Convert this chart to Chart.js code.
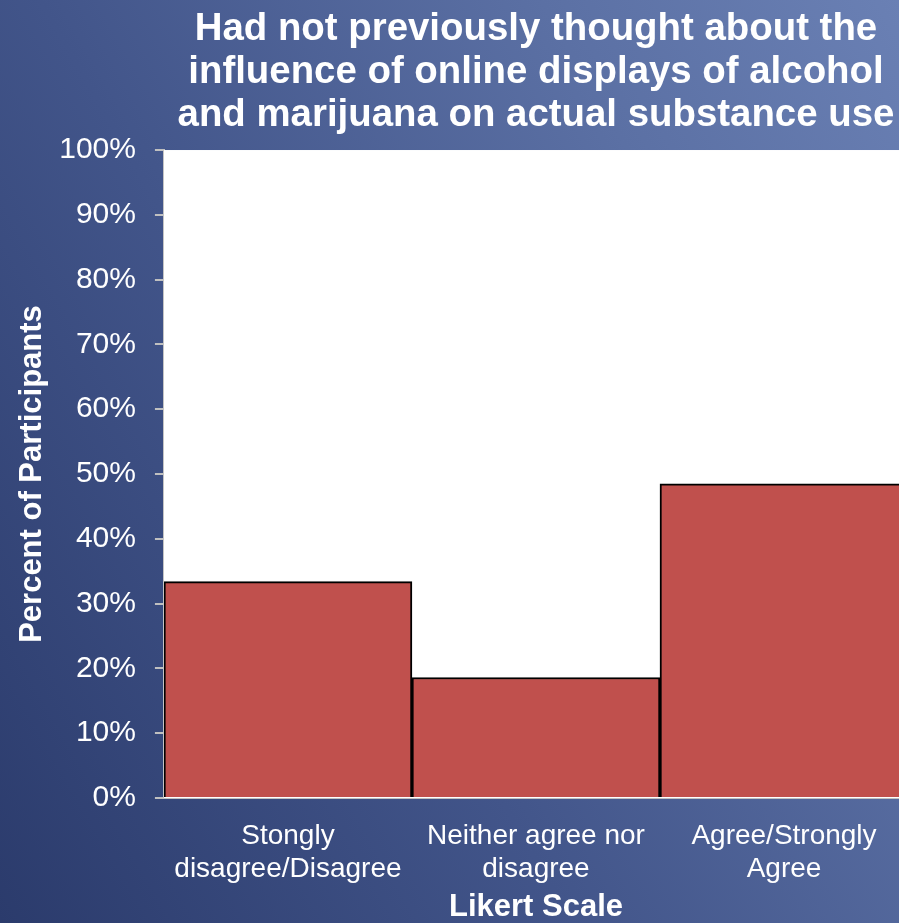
<!DOCTYPE html>
<html lang="en">
<head>
    <meta charset="UTF-8">
    <title>Likert Scale - Online Displays</title>
    <script src="https://cdn.jsdelivr.net/npm/chart.js"></script>
    <style>
        html, body {
            margin: 0;
            padding: 0;
            overflow: hidden;
            width: 899px;
            height: 923px;
        }
        body {
            background: linear-gradient(60deg, #2b3b6c 0%, #42558a 40%, #5b70a4 75%, #6a80b4 100%);
            font-family: "Liberation Sans", Arial, sans-serif;
        }
        .wrap {
            position: relative;
            width: 910px;
            height: 923px;
        }
    </style>
</head>
<body>
    <div class="wrap">
        <canvas id="likertChart" width="910" height="923"></canvas>
    </div>

    <script>
        const categories = [
            ['Stongly', 'disagree/Disagree'],
            ['Neither agree nor', 'disagree'],
            ['Agree/Strongly', 'Agree']
        ];
        const percentParticipants = [33.4, 18.6, 48.5];
        const titleLines = [
            'Had not previously thought about the',
            'influence of online displays of alcohol',
            'and marijuana on actual substance use'
        ];

        const Y_TICK_PAD = 19;
        const X_TICK_PAD = 21;

        // white plot background behind the bars
        const plotBackground = {
            id: 'plotBackground',
            beforeDatasetsDraw(chart) {
                const { ctx, chartArea } = chart;
                ctx.save();
                ctx.fillStyle = '#ffffff';
                ctx.fillRect(chartArea.left, chartArea.top, chartArea.right - chartArea.left, chartArea.bottom - chartArea.top);
                ctx.restore();
            }
        };

        const ctx = document.getElementById('likertChart').getContext('2d');
        const likertChart = new Chart(ctx, {
            type: 'bar',
            data: {
                labels: categories,
                datasets: [{
                    label: 'Percent of Participants',
                    data: percentParticipants,
                    backgroundColor: '#c0504d',
                    borderColor: '#000000',
                    borderWidth: 2,
                    borderSkipped: 'bottom',
                    barPercentage: 1.0,
                    categoryPercentage: 1.0
                }]
            },
            options: {
                responsive: false,
                animation: false,
                layout: {
                    padding: { top: 8, right: 2, left: 14, bottom: 0 }
                },
                plugins: {
                    legend: { display: false },
                    tooltip: { enabled: false },
                    title: {
                        display: true,
                        fullSize: false,
                        text: titleLines,
                        color: '#ffffff',
                        font: { family: 'Liberation Sans', size: 38.4, weight: 'bold', lineHeight: 1.12 },
                        padding: { top: 0, bottom: 13 }
                    }
                },
                scales: {
                    y: {
                        min: 0,
                        max: 100,
                        // fit() reserves the tick padding twice; only one side is used
                        afterFit: (scale) => { scale.width -= Y_TICK_PAD; },
                        ticks: {
                            stepSize: 10,
                            color: '#ffffff',
                            padding: Y_TICK_PAD,
                            font: { family: 'Liberation Sans', size: 30 },
                            callback: (v) => v + '%'
                        },
                        grid: {
                            drawOnChartArea: false,
                            drawTicks: true,
                            tickLength: 9,
                            color: '#c0c0c0',
                            lineWidth: 2
                        },
                        border: { color: '#c0c0c0', width: 2 },
                        title: {
                            display: true,
                            text: 'Percent of Participants',
                            color: '#ffffff',
                            font: { family: 'Liberation Sans', size: 31, weight: 'bold' },
                            padding: { top: 0, bottom: 8 }
                        }
                    },
                    x: {
                        // fixed band below the plot for the labels and axis title
                        afterFit: (scale) => { scale.height = 125; },
                        ticks: {
                            color: '#ffffff',
                            padding: X_TICK_PAD,
                            maxRotation: 0,
                            font: { family: 'Liberation Sans', size: 28, lineHeight: 1.2 }
                        },
                        grid: {
                            display: true,
                            drawOnChartArea: false,
                            drawTicks: false
                        },
                        border: { color: '#c0c0c0', width: 2 },
                        title: {
                            display: true,
                            text: 'Likert Scale',
                            color: '#ffffff',
                            font: { family: 'Liberation Sans', size: 31, weight: 'bold', lineHeight: 1.0 },
                            padding: { top: -3, bottom: 0 }
                        }
                    }
                }
            },
            plugins: [plotBackground]
        });
    </script>
</body>
</html>
